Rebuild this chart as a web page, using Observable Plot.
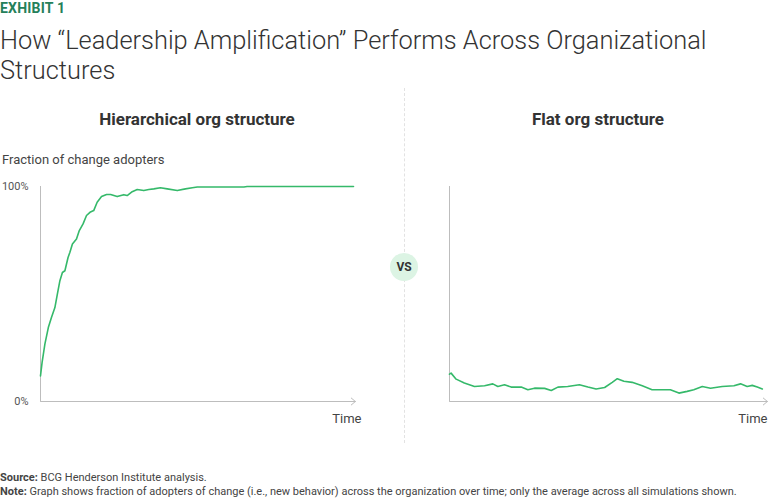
<!DOCTYPE html>
<html>
<head>
<meta charset="utf-8">
<script src="https://cdn.jsdelivr.net/npm/d3@7"></script>
<script src="https://cdn.jsdelivr.net/npm/@observablehq/plot@0.6"></script>
<style>
  html, body { margin: 0; padding: 0; background: #fff; }
  #page { position: relative; width: 768px; height: 499px; overflow: hidden; font-family: Roboto, "Open Sans", sans-serif; color: #333; }
  .abs { position: absolute; white-space: nowrap; }
  #exhibit { left: 0; top: 0; font-size: 14px; font-weight: 700; color: #25805a; letter-spacing: 0.2px; }
  #title { left: 0; top: 25px; font-size: 25.4px; font-weight: 300; line-height: 30px; color: #333; white-space: normal; width: 740px; }
  .ptitle { top: 109px; font-size: 17px; font-weight: 700; color: #333; transform: translateX(-50%); }
  #ylab { left: 2px; top: 152px; font-size: 13px; color: #444; }
  #divider { left: 404px; top: 88px; height: 355px; border-left: 1px dashed #e2e2e2; }
  #vs { left: 390px; top: 253px; width: 28px; height: 28px; border-radius: 50%; background: #dcf4e4; text-align: center; line-height: 28px; font-size: 12px; font-weight: 700; color: #333; }
  #foot { left: 0; top: 471px; font-size: 11px; line-height: 14px; color: #444; }
  .plot { position: absolute; top: 176px; }
</style>
</head>
<body>
<div id="page">
  <div class="abs" id="exhibit">EXHIBIT 1</div>
  <div class="abs" id="title">How “Leadership Amplification” Performs Across Organizational Structures</div>
  <div class="abs ptitle" style="left:197px">Hierarchical org structure</div>
  <div class="abs ptitle" style="left:598px">Flat org structure</div>
  <div class="abs" id="ylab">Fraction of change adopters</div>
  <div class="abs" id="divider"></div>
  <div id="left" class="plot" style="left:0px"></div>
  <div id="right" class="plot" style="left:409px"></div>
  <div class="abs" id="vs">VS</div>
  <div class="abs" id="foot"><b>Source:</b> BCG Henderson Institute analysis.<br><b>Note:</b> Graph shows fraction of adopters of change (i.e., new behavior) across the organization over time; only the average across all simulations shown.</div>
</div>
<script>
// Hierarchical structure: time (0-100) vs % adopters
const hierTime = [0, 0.5, 1.4, 2.5, 3.5, 4.6, 5.3, 6.2, 7.0, 7.8, 8.8, 9.4, 10.2, 11.5, 12.4, 13.6, 14.7, 15.8, 17.0, 18.1, 19.5, 21.1, 22.4, 24.5, 26.6, 27.7, 29.3, 30.9, 33.0, 34.6, 36.2, 38.3, 40.5, 43.7, 46.3, 48.5, 50.1, 65, 66, 100];
const hierValue = [11.9, 18.1, 26.7, 34.4, 39.1, 43.7, 49.2, 56.2, 60.0, 60.8, 67.0, 69.4, 73.3, 75.6, 79.5, 82.6, 86.5, 88.0, 88.8, 92.7, 95.3, 96.3, 96.3, 95.3, 96.2, 95.8, 97.6, 98.6, 98.1, 98.6, 98.9, 99.4, 98.9, 98.1, 98.9, 99.4, 99.8, 99.8, 100, 100];

// Flat structure
const flatTime = [0, 0.5, 2.1, 4.7, 7.9, 11.1, 13.7, 15.3, 17.4, 19.5, 22.7, 24.8, 26.9, 30.1, 32.2, 34.3, 37.4, 41.1, 43.8, 46.4, 49.1, 51.5, 53.1, 55.2, 57.8, 61.0, 64.1, 67.3, 69.9, 72.6, 75.2, 77.3, 80.0, 82.6, 86.3, 90.0, 92.1, 94.2, 95.8, 97.4, 99.0];
const flatValue = [12.7, 13.2, 10.4, 8.6, 7.0, 7.3, 8.2, 7.0, 7.8, 6.7, 6.7, 5.5, 6.2, 6.1, 5.1, 6.7, 7.0, 7.8, 6.7, 5.8, 6.5, 8.9, 10.6, 9.4, 8.9, 7.3, 5.5, 5.5, 5.5, 3.9, 4.7, 5.5, 7.0, 6.2, 7.0, 7.3, 8.2, 7.0, 7.5, 6.7, 5.8];

const yTicks = [0, 100];
const axisLabel = "Time";

const lineColor = "#35b96a";
const axisColor = "#bdbdbd";

function chart(times, values, {width, marginLeft, marginRight, showTicks, timeDx}) {
  const data = times.map((t, i) => ({t, v: values[i]}));
  return Plot.plot({
    width,
    height: 255,
    marginLeft,
    marginRight,
    marginTop: 10,
    marginBottom: 30,
    x: {domain: [0, 100], axis: null},
    y: {domain: [0, 100], axis: null},
    style: {fontFamily: "Roboto, sans-serif", background: "transparent", overflow: "visible"},
    marks: [
      showTicks ? Plot.axisY({ticks: yTicks, tickSize: 0, tickPadding: 12, tickFormat: d => d + "%", fontSize: 11, color: "#555", label: null}) : null,
      Plot.ruleX([0], {y1: 0, y2: 100, stroke: axisColor, strokeWidth: 1}),
      Plot.arrow([0], {x1: 0, y1: 0, x2: 100.6, y2: 0, stroke: axisColor, strokeWidth: 1, headLength: 8, headAngle: 80, bend: 0}),
      Plot.line(data, {x: "t", y: "v", stroke: lineColor, strokeWidth: 1.6, curve: "linear"}),
      Plot.text([axisLabel], {frameAnchor: "bottom-right", dx: timeDx, dy: 17, lineAnchor: "middle", textAnchor: "end", fontSize: 13, fill: "#444"})
    ]
  });
}

document.getElementById("left").append(chart(hierTime, hierValue, {width: 370, marginLeft: 40, marginRight: 17, showTicks: true, timeDx: 8}));
document.getElementById("right").append(chart(flatTime, flatValue, {width: 359, marginLeft: 40, marginRight: 3, showTicks: false, timeDx: 2}));
</script>
</body>
</html>
